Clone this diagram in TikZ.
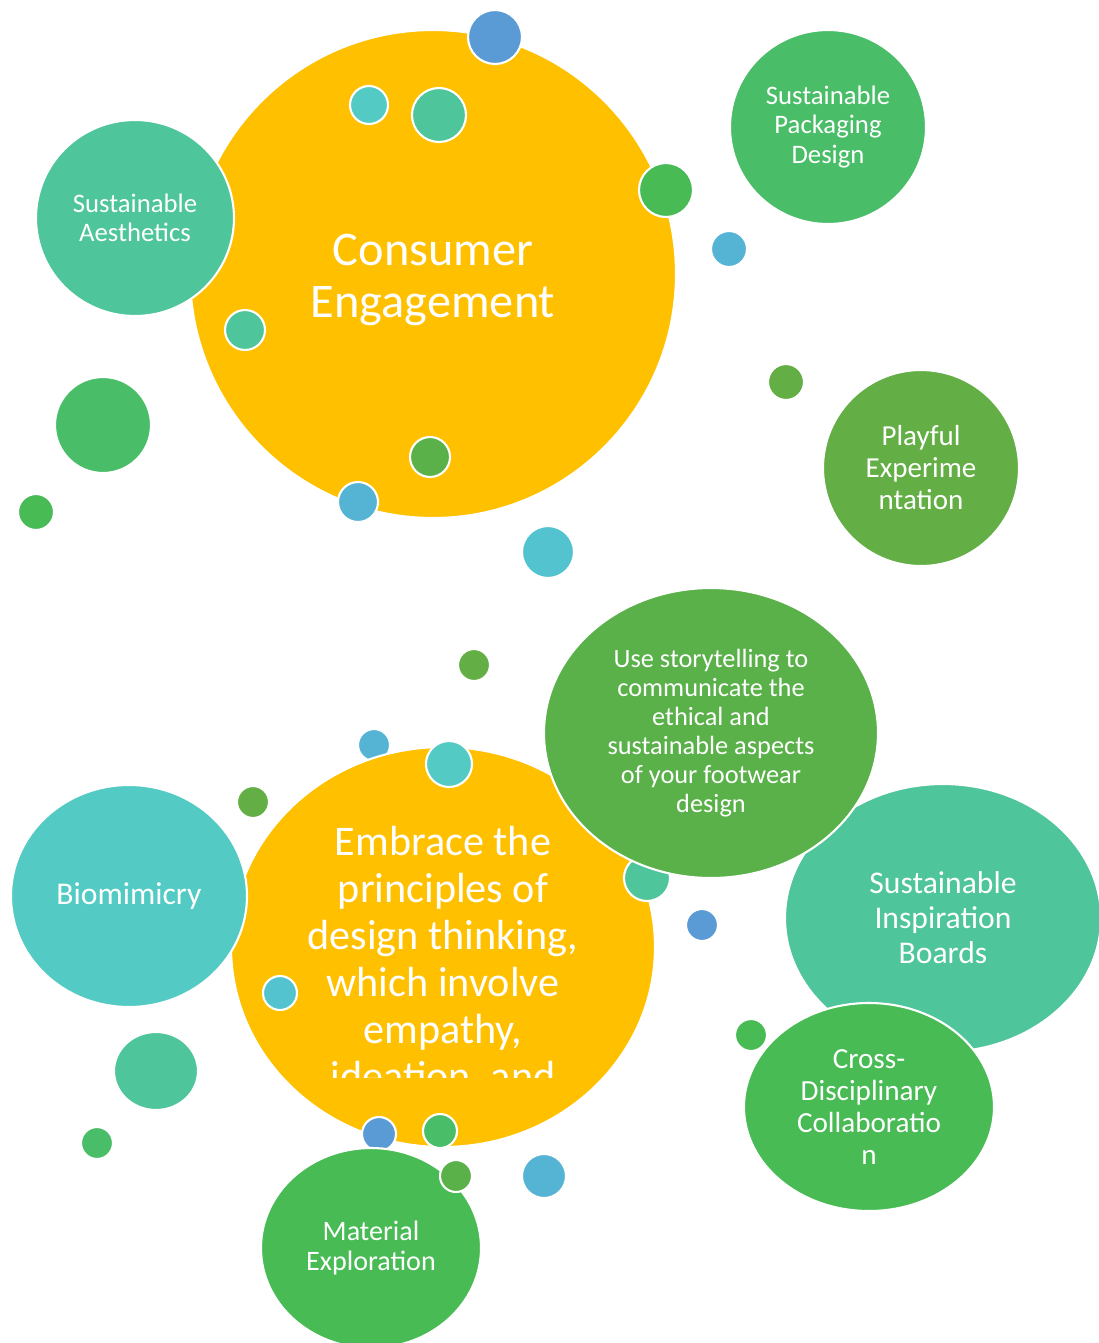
\documentclass[tikz,border=0pt]{standalone}
\usepackage{fontspec}
\setmainfont{Carlito}
\usetikzlibrary{shapes.geometric}
\definecolor{ceyellow}{HTML}{FFC000}
\definecolor{seagreen}{HTML}{4EC59B}
\definecolor{aqua}{HTML}{53CBC4}
\definecolor{leaf}{HTML}{4ABD68}
\definecolor{olive}{HTML}{63AF45}
\definecolor{grass}{HTML}{5AB14A}
\definecolor{lime}{HTML}{48BB55}
\definecolor{steel}{HTML}{5B9BD5}
\definecolor{sky}{HTML}{55B3D3}
\definecolor{turq}{HTML}{53C4CF}
\begin{document}
\begin{tikzpicture}[x=0.02cm,y=-0.02cm,
  bubble/.style={ellipse,draw=white,line width=1.2pt,text=white,align=center,inner sep=0pt},
  bsize/.style 2 args={minimum width=#1*0.02cm,minimum height=#2*0.02cm},
  blob/.style={bubble,bsize={#1}{#1}}]
\useasboundingbox (0,0) rectangle (1099,1343);
% consumer engagement group
\node [bubble,fill=ceyellow,bsize={486}{488}] (consumer) at (433,274) {};
\node [text=white,align=center,font=\fontsize{27.5}{30}\selectfont] (consumertext) at (433,280) {Consumer\\Engagement};
\node [blob=54,fill=steel] (ctop) at (495,37) {};
\node [blob=38,fill=aqua] (ca) at (369,105) {};
\node [blob=54,fill=seagreen] (cb) at (439,115) {};
\node [blob=54,fill=lime] (cc) at (666,190) {};
\node [blob=40,fill=seagreen] (cd) at (245,330) {};
\node [blob=40,fill=grass] (ce) at (430,457) {};
\node [blob=40,fill=sky] (cf) at (358,502) {};
\node [bubble,fill=seagreen,bsize={198}{196},font=\fontsize{15.2}{16.7}\selectfont] (aesthetics) at (135,218) {Sustainable\\Aesthetics};
\node [blob=96,fill=leaf] (fa) at (103,425) {};
\node [blob=36,fill=lime] (fb) at (36,512) {};
\node [blob=52,fill=turq] (fc) at (548,552) {};
\node [bubble,fill=leaf,bsize={196}{194},font=\fontsize{15.2}{16.7}\selectfont] (packaging) at (828,127) {Sustainable\\Packaging\\Design};
\node [blob=36,fill=sky] (fd) at (729,249) {};
\node [blob=36,fill=olive] (fe) at (786,382) {};
\node [bubble,fill=olive,bsize={196}{196},font=\fontsize{16.5}{18.2}\selectfont] (playful) at (921,468) {Playful\\Experime\\ntation};
% design thinking group
\node [blob=32,fill=olive] (fg) at (474,665) {};
\node [blob=32,fill=sky] (fh) at (374,745) {};
\node [blob=32,fill=olive] (fi) at (253,802) {};
\node [bubble,fill=ceyellow,bsize={424}{400}] (embrace) at (443,947) {};
\begin{scope}
\clip (240,780) rectangle (650,1077);
\node [text=white,align=center,font=\fontsize{24}{26.7}\selectfont] (embracetext) at (443,961) {Embrace the\\principles of\\design thinking,\\which involve\\empathy,\\ideation, and};
\end{scope}
\node [bubble,fill=aqua,bsize={236}{222},font=\fontsize{18}{19.8}\selectfont] (biomimicry) at (129,896) {Biomimicry};
\node [blob=46,fill=aqua] (ea) at (449,764) {};
\node [blob=46,fill=seagreen] (eb) at (647,878) {};
\node [bubble,fill=seagreen,bsize={316}{268},font=\fontsize{18}{19.9}\selectfont] (boards) at (943,918) {Sustainable\\Inspiration\\Boards};
\node [bubble,fill=grass,bsize={334}{290},font=\fontsize{15}{16.5}\selectfont] (story) at (711,733) {Use storytelling to\\communicate the\\ethical and\\sustainable aspects\\of your footwear\\design};
\node [bubble,fill=lime,bsize={250}{208},font=\fontsize{16.6}{18.2}\selectfont] (cross) at (869,1107) {Cross-\\Disciplinary\\Collaboratio\\n};
\node [blob=32,fill=steel] (ec) at (702,925) {};
\node [blob=34,fill=turq] (ed) at (280,993) {};
\node [bubble,fill=seagreen,bsize={84}{78}] (ee) at (156,1071) {};
\node [blob=32,fill=leaf] (ef) at (97,1143) {};
\node [blob=34,fill=steel] (eg) at (379,1134) {};
\node [blob=34,fill=leaf] (eh) at (440,1131) {};
\node [bubble,fill=lime,bsize={220}{200},font=\fontsize{16}{17.6}\selectfont] (material) at (371,1248) {Material\\Exploration};
\node [blob=32,fill=grass] (ei) at (456,1176) {};
\node [blob=44,fill=sky] (ej) at (544,1176) {};
\node [blob=32,fill=lime] (ek) at (751,1035) {};
\end{tikzpicture}
\end{document}
